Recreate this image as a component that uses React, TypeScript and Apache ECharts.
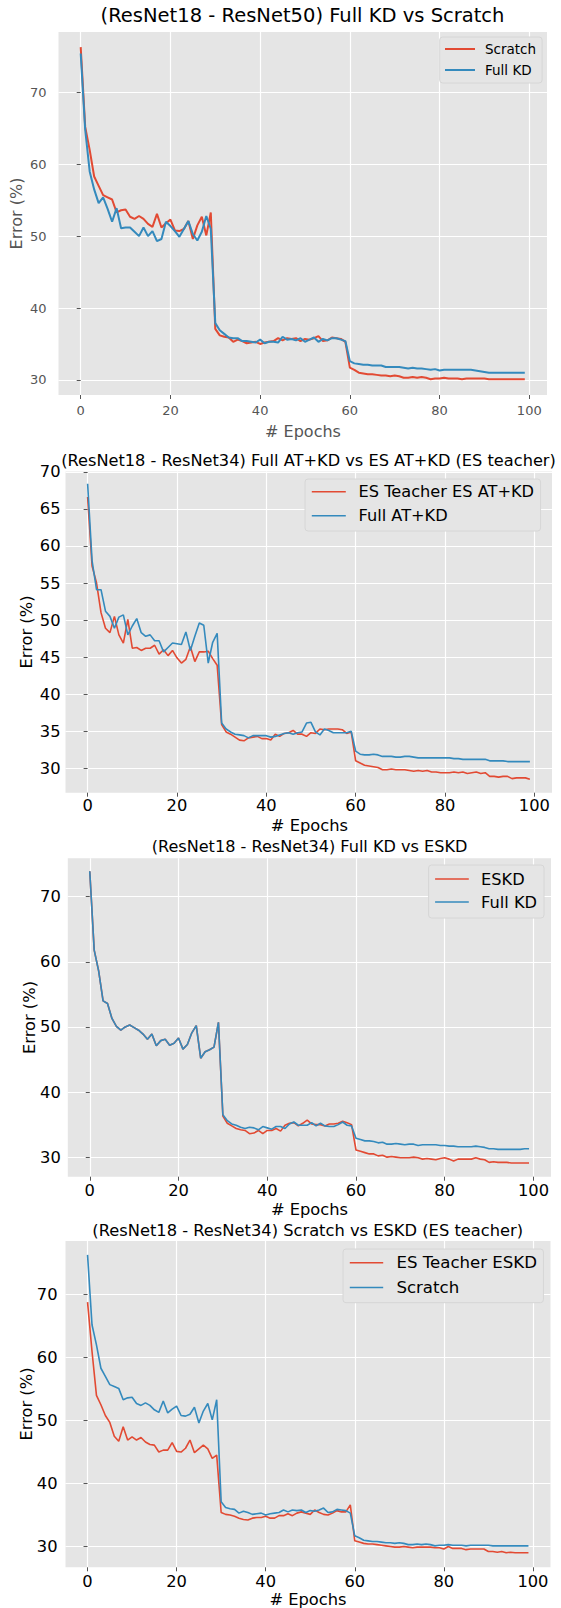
import React, { useEffect, useRef } from "react";
import * as echarts from "echarts";

// ---------- data ----------
const EPOCHS = [
  0, 1, 2, 3, 4, 5, 6, 7, 8, 9, 10, 11, 12, 13, 14, 15, 16, 17, 18, 19,
  20, 21, 22, 23, 24, 25, 26, 27, 28, 29, 30, 31, 32, 33, 34, 35, 36, 37, 38, 39,
  40, 41, 42, 43, 44, 45, 46, 47, 48, 49, 50, 51, 52, 53, 54, 55, 56, 57, 58, 59,
  60, 61, 62, 63, 64, 65, 66, 67, 68, 69, 70, 71, 72, 73, 74, 75, 76, 77, 78, 79,
  80, 81, 82, 83, 84, 85, 86, 87, 88, 89, 90, 91, 92, 93, 94, 95, 96, 97, 98, 99,
];

const X_TICKS = [0, 20, 40, 60, 80, 100];
const Y_TICKS_10 = [30, 40, 50, 60, 70];
const Y_TICKS_5 = [30, 35, 40, 45, 50, 55, 60, 65, 70];

// Panel 1 / Panel 4: Scratch
const scratch = [
  76.3, 65.2, 62.0, 58.3, 57.0, 55.7, 55.4, 55.1, 53.3, 53.6,
  53.7, 52.7, 52.4, 52.8, 52.4, 51.7, 51.3, 53.1, 51.2, 51.8,
  52.3, 50.8, 50.7, 51.0, 52.1, 49.6, 51.5, 52.7, 50.1, 53.3,
  37.1, 36.2, 36.0, 35.9, 35.3, 35.6, 35.4, 35.1, 35.2, 35.3,
  35.0, 35.2, 35.3, 35.4, 35.8, 35.5, 35.8, 35.7, 35.8, 35.4,
  35.7, 35.6, 35.8, 36.1, 35.4, 35.5, 35.9, 35.8, 35.7, 35.3,
  31.7, 31.4, 31.0, 30.9, 30.8, 30.8, 30.7, 30.6, 30.6, 30.5,
  30.6, 30.5, 30.3, 30.3, 30.4, 30.3, 30.4, 30.3, 30.1, 30.2,
  30.2, 30.3, 30.2, 30.2, 30.2, 30.1, 30.2, 30.2, 30.2, 30.2,
  30.2, 30.1, 30.1, 30.1, 30.1, 30.1, 30.1, 30.1, 30.1, 30.1,
];

// Panel 1: Full KD (ResNet50 teacher)
const fullKdR50 = [
  75.4, 64.8, 59.0, 56.5, 54.6, 55.4, 53.8, 52.0, 53.9, 51.1,
  51.2, 51.2, 50.6, 50.0, 51.2, 50.0, 50.7, 49.3, 49.6, 52.0,
  51.4, 50.7, 49.9, 51.0, 52.1, 50.3, 49.4, 50.6, 52.8, 51.0,
  37.9, 36.9, 36.4, 35.9, 35.8, 35.8, 35.4, 35.4, 35.3, 35.2,
  35.6, 35.1, 35.3, 35.3, 35.2, 36.0, 35.6, 35.7, 35.5, 35.8,
  35.3, 35.6, 35.9, 35.3, 35.7, 35.5, 35.8, 35.8, 35.6, 35.4,
  32.6, 32.3, 32.2, 32.1, 32.1, 32.0, 32.0, 32.0, 31.8, 31.8,
  31.8, 31.8, 31.7, 31.6, 31.7, 31.6, 31.6, 31.5, 31.4, 31.5,
  31.3, 31.4, 31.4, 31.4, 31.4, 31.4, 31.4, 31.4, 31.3, 31.2,
  31.1, 31.0, 31.0, 31.0, 31.0, 31.0, 31.0, 31.0, 31.0, 31.0,
];

// Panel 2: ES Teacher ES AT+KD
const esAtKd = [
  66.6, 57.3, 55.0, 51.0, 48.9, 48.3, 50.5, 48.0, 46.9, 50.1,
  46.2, 46.3, 45.9, 46.2, 46.2, 46.6, 45.4, 46.0, 45.2, 45.9,
  44.9, 44.2, 44.7, 46.4, 44.4, 45.7, 45.7, 45.8, 44.8, 43.9,
  35.9, 34.9, 34.6, 34.2, 33.8, 33.7, 34.1, 34.2, 34.3, 34.0,
  34.0, 33.8, 34.6, 34.3, 34.7, 34.8, 35.1, 34.6, 34.6, 34.3,
  34.8, 34.7, 35.3, 35.2, 35.3, 35.3, 35.3, 35.2, 34.7, 34.9,
  31.0, 30.7, 30.4, 30.3, 30.2, 30.1, 29.8, 29.8, 29.9, 29.8,
  29.8, 29.8, 29.7, 29.6, 29.7, 29.6, 29.7, 29.5, 29.5, 29.4,
  29.4, 29.4, 29.5, 29.4, 29.5, 29.3, 29.4, 29.5, 29.3, 29.4,
  28.9, 28.9, 28.8, 28.9, 28.9, 28.6, 28.7, 28.7, 28.7, 28.5,
];

// Panel 2: Full AT+KD
const fullAtKd = [
  68.4, 58.0, 54.1, 54.1, 51.2, 50.5, 48.9, 50.4, 50.7, 48.0,
  49.2, 50.2, 48.3, 47.8, 48.0, 47.2, 47.2, 45.7, 46.3, 46.9,
  46.8, 46.7, 48.4, 45.9, 47.8, 49.6, 49.3, 44.2, 47.0, 48.2,
  36.1, 35.3, 34.9, 34.6, 34.5, 34.4, 34.1, 34.4, 34.4, 34.4,
  34.4, 34.2, 34.3, 34.5, 34.7, 34.8, 34.6, 34.8, 34.9, 36.1,
  36.2, 34.9, 34.5, 35.3, 35.1, 34.8, 34.8, 34.8, 34.8, 35.0,
  32.3, 31.9, 31.8, 31.8, 31.9, 31.8, 31.6, 31.6, 31.6, 31.5,
  31.5, 31.6, 31.6, 31.5, 31.4, 31.4, 31.4, 31.4, 31.4, 31.4,
  31.4, 31.4, 31.3, 31.3, 31.2, 31.2, 31.2, 31.2, 31.2, 31.2,
  31.0, 31.0, 31.0, 31.0, 30.9, 30.9, 30.9, 30.9, 30.9, 30.9,
];

// Panel 3: Full KD (ResNet34 teacher)
const fullKdR34 = [
  73.9, 61.8, 58.6, 54.0, 53.6, 51.3, 50.1, 49.5, 50.0, 50.3,
  49.9, 49.5, 48.9, 48.1, 48.9, 47.1, 47.9, 48.1, 47.2, 47.5,
  48.3, 46.6, 47.3, 49.1, 50.2, 45.2, 46.2, 46.5, 46.9, 50.7,
  36.5, 35.6, 35.1, 34.9, 34.6, 34.4, 34.6, 34.5, 34.2, 34.7,
  34.5, 34.3, 34.7, 34.7, 34.4, 35.1, 35.4, 34.9, 34.9, 34.9,
  35.3, 34.8, 35.2, 34.8, 34.7, 34.7, 35.0, 35.4, 34.9, 34.8,
  32.9, 32.7, 32.5, 32.5, 32.4, 32.2, 32.3, 32.0, 32.0, 32.1,
  32.0, 31.9, 32.0, 32.0, 31.8, 31.9, 31.9, 31.9, 31.9, 31.8,
  31.8, 31.7, 31.7, 31.6, 31.6, 31.6, 31.6, 31.7, 31.6, 31.5,
  31.3, 31.3, 31.2, 31.2, 31.2, 31.2, 31.2, 31.2, 31.3, 31.3,
];

// Panel 3: ESKD (identical to Full KD for the first 30 epochs)
const eskd = [
  73.9, 61.8, 58.6, 54.0, 53.6, 51.3, 50.1, 49.5, 50.0, 50.3,
  49.9, 49.5, 48.9, 48.1, 48.9, 47.1, 47.9, 48.1, 47.2, 47.5,
  48.3, 46.6, 47.3, 49.1, 50.2, 45.2, 46.2, 46.5, 46.9, 50.7,
  36.3, 35.2, 34.8, 34.4, 34.2, 34.1, 33.6, 33.7, 34.1, 33.6,
  34.1, 34.1, 34.4, 34.0, 34.9, 35.2, 35.3, 34.8, 35.2, 35.7,
  35.1, 35.0, 35.0, 34.8, 35.1, 35.1, 35.2, 35.5, 35.3, 35.0,
  31.1, 30.9, 30.7, 30.5, 30.5, 30.2, 30.3, 30.0, 30.1, 30.0,
  29.9, 29.9, 29.9, 30.0, 29.9, 29.7, 29.8, 29.7, 29.6, 29.8,
  29.9, 29.7, 29.4, 29.7, 29.7, 29.7, 29.7, 29.9, 29.7, 29.6,
  29.2, 29.3, 29.2, 29.2, 29.2, 29.1, 29.1, 29.1, 29.1, 29.1,
];

// Panel 4: ES Teacher ESKD
const esTeacherEskd = [
  68.8, 61.0, 54.0, 52.5, 50.8, 49.7, 47.5, 46.7, 49.0, 46.9,
  47.4, 46.9, 47.3, 46.6, 46.2, 46.1, 45.0, 45.3, 45.3, 46.5,
  45.1, 45.0, 45.6, 46.9, 44.9, 45.5, 46.1, 45.5, 44.0, 44.5,
  35.4, 35.1, 35.0, 34.8, 34.5, 34.3, 34.2, 34.5, 34.6, 34.6,
  34.8, 34.5, 34.5, 34.9, 34.9, 35.2, 34.9, 35.3, 35.5, 35.3,
  35.1, 35.8, 35.4, 35.1, 35.0, 35.3, 35.7, 35.5, 35.5, 36.6,
  30.9, 30.7, 30.5, 30.4, 30.4, 30.3, 30.2, 30.1, 30.0, 29.9,
  29.9, 30.0, 29.9, 29.8, 29.9, 29.9, 29.9, 29.9, 29.8, 29.8,
  29.6, 30.0, 29.7, 29.7, 29.7, 29.5, 29.6, 29.6, 29.6, 29.6,
  29.2, 29.2, 29.1, 29.2, 29.0, 29.1, 29.0, 29.0, 29.0, 29.0,
];

const TITLES = [
  "(ResNet18 - ResNet50) Full KD vs Scratch",
  "(ResNet18 - ResNet34) Full AT+KD vs ES AT+KD (ES teacher)",
  "(ResNet18 - ResNet34) Full KD vs ESKD",
  "(ResNet18 - ResNet34) Scratch vs ESKD (ES teacher)",
];
const X_NAME = "# Epochs";
const Y_NAME = "Error (%)";

// ---------- style ----------
const FONT = "DejaVu Sans";
const RED = "#E24A33";
const BLUE = "#348ABD";
const BG = "#E5E5E5";

type Panel = {
  title: string;
  grid: { left: number; top: number; width: number; height: number };
  yMin: number;
  yMax: number;
  yTicks: number[];
  tickFont: number;
  textColor: string;
  titleFont: number;
  titlePos: [number, number];
  labelFont: number;
  xNamePos: [number, number];
  yNamePos: [number, number];
  yLabelMargin: number;
  xLabelMargin: number;
  lineWidth: number;
  series: { name: string; data: number[]; color: string }[];
  legend: {
    left: number;
    top: number;
    padding: number[];
    itemWidth: number;
    itemHeight: number;
    itemGap: number;
    fontSize: number;
    textPad: number;
  };
};

const PANELS: Panel[] = [
  {
    title: TITLES[0],
    grid: { left: 58.5, top: 32, width: 488.5, height: 363 },
    yMin: 27.9,
    yMax: 78.4,
    yTicks: Y_TICKS_10,
    tickFont: 13,
    textColor: "#555555",
    titleFont: 19.5,
    titlePos: [302.5, 15],
    labelFont: 16,
    xNamePos: [303, 431.5],
    yNamePos: [16, 213.5],
    yLabelMargin: 12,
    xLabelMargin: 9,
    lineWidth: 2,
    series: [
      { name: "Scratch", data: scratch, color: RED },
      { name: "Full KD", data: fullKdR50, color: BLUE },
    ],
    legend: { left: 439.7, top: 37, padding: [5, 6, 6, 4.3], itemWidth: 30, itemHeight: 14, itemGap: 7, fontSize: 13.5, textPad: 5 },
  },
  {
    title: TITLES[1],
    grid: { left: 65.5, top: 471.5, width: 486.5, height: 321.2 },
    yMin: 26.7,
    yMax: 70.05,
    yTicks: Y_TICKS_5,
    tickFont: 16.3,
    textColor: "#000000",
    titleFont: 16.2,
    titlePos: [308.5, 460.7],
    labelFont: 16.3,
    xNamePos: [309.4, 825],
    yNamePos: [26.4, 632],
    yLabelMargin: 5,
    xLabelMargin: 5,
    lineWidth: 1.6,
    series: [
      { name: "ES Teacher ES AT+KD", data: esAtKd, color: RED },
      { name: "Full AT+KD", data: fullAtKd, color: BLUE },
    ],
    legend: { left: 305, top: 479, padding: [4.7, 6.5, 7.3, 6], itemWidth: 34, itemHeight: 16, itemGap: 8, fontSize: 16.2, textPad: 7.7 },
  },
  {
    title: TITLES[2],
    grid: { left: 67.8, top: 858.3, width: 483.2, height: 318.4 },
    yMin: 27.0,
    yMax: 75.9,
    yTicks: Y_TICKS_10,
    tickFont: 16.3,
    textColor: "#000000",
    titleFont: 16.1,
    titlePos: [309.5, 846.7],
    labelFont: 16.3,
    xNamePos: [309.5, 1209],
    yNamePos: [29, 1017.5],
    yLabelMargin: 7,
    xLabelMargin: 6,
    lineWidth: 1.6,
    series: [
      { name: "ESKD", data: eskd, color: RED },
      { name: "Full KD", data: fullKdR34, color: BLUE },
    ],
    legend: { left: 428.6, top: 865, padding: [6, 7, 8, 5.7], itemWidth: 33.7, itemHeight: 16, itemGap: 7, fontSize: 16.2, textPad: 7.3 },
  },
  {
    title: TITLES[3],
    grid: { left: 65.5, top: 1241, width: 485, height: 326.3 },
    yMin: 26.7,
    yMax: 78.5,
    yTicks: Y_TICKS_10,
    tickFont: 16.3,
    textColor: "#000000",
    titleFont: 16.3,
    titlePos: [307.7, 1230],
    labelFont: 16.3,
    xNamePos: [308, 1599.3],
    yNamePos: [26.1, 1404],
    yLabelMargin: 8,
    xLabelMargin: 5.7,
    lineWidth: 1.6,
    series: [
      { name: "ES Teacher ESKD", data: esTeacherEskd, color: RED },
      { name: "Scratch", data: scratch, color: BLUE },
    ],
    legend: { left: 343, top: 1249, padding: [5.3, 6.4, 6.7, 6], itemWidth: 33.4, itemHeight: 16, itemGap: 7.7, fontSize: 16.6, textPad: 8.2 },
  },
];

function buildOption() {
  const grid: any[] = [];
  const xAxis: any[] = [];
  const yAxis: any[] = [];
  const series: any[] = [];
  const legend: any[] = [];
  const graphic: any[] = [];

  PANELS.forEach((p, i) => {
    grid.push({
      left: p.grid.left,
      top: p.grid.top,
      width: p.grid.width,
      height: p.grid.height,
      show: true,
      backgroundColor: BG,
      borderWidth: 0,
      containLabel: false,
    });
    xAxis.push({
      type: "value",
      gridIndex: i,
      min: -4.95,
      max: 103.95,
      axisLine: { show: false },
      axisTick: { show: true, customValues: X_TICKS, length: 4, lineStyle: { color: "#555555", width: 1 } },
      axisLabel: {
        customValues: X_TICKS,
        margin: p.xLabelMargin,
        color: p.textColor,
        fontFamily: FONT,
        fontSize: p.tickFont,
        formatter: (v: number) => String(v),
      },
      splitLine: { show: true, lineStyle: { color: "#FFFFFF", width: 1.2 } },
    });
    yAxis.push({
      type: "value",
      gridIndex: i,
      min: p.yMin,
      max: p.yMax,
      axisLine: { show: false },
      axisTick: { show: true, customValues: p.yTicks, length: 4, lineStyle: { color: "#555555", width: 1 } },
      axisLabel: {
        customValues: p.yTicks,
        margin: p.yLabelMargin,
        color: p.textColor,
        fontFamily: FONT,
        fontSize: p.tickFont,
        formatter: (v: number) => String(v),
      },
      splitLine: { show: true, lineStyle: { color: "#FFFFFF", width: 1.2 } },
    });
    p.series.forEach((s) => {
      series.push({
        type: "line",
        name: s.name,
        xAxisIndex: i,
        yAxisIndex: i,
        data: s.data.map((v, k) => [EPOCHS[k], v]),
        symbol: "none",
        showSymbol: false,
        silent: true,
        color: s.color,
        lineStyle: { color: s.color, width: p.lineWidth },
        itemStyle: { color: s.color },
      });
    });
    legend.push({
      orient: "vertical",
      left: p.legend.left,
      top: p.legend.top,
      padding: p.legend.padding,
      itemWidth: p.legend.itemWidth,
      itemHeight: p.legend.itemHeight,
      itemGap: p.legend.itemGap,
      backgroundColor: BG,
      borderColor: "#D6D6D6",
      borderWidth: 1,
      borderRadius: 3,
      selectedMode: false,
      itemStyle: { opacity: 0 },
      data: p.series.map((s) => ({
        name: s.name,
        itemStyle: { opacity: 0, color: s.color },
        lineStyle: { color: s.color, width: p.lineWidth, opacity: 1 },
      })),
      textStyle: {
        fontFamily: FONT,
        fontSize: p.legend.fontSize,
        color: "#000000",
        padding: [0, 0, 0, p.legend.textPad],
        lineHeight: p.legend.itemHeight,
      },
    });
    graphic.push({
      type: "text",
      x: p.titlePos[0],
      y: p.titlePos[1],
      style: {
        text: p.title,
        fontFamily: FONT,
        fontSize: p.titleFont,
        fill: "#000000",
        textAlign: "center",
        textVerticalAlign: "middle",
      },
    });
    graphic.push({
      type: "text",
      x: p.xNamePos[0],
      y: p.xNamePos[1],
      style: {
        text: X_NAME,
        fontFamily: FONT,
        fontSize: p.labelFont,
        fill: p.textColor,
        textAlign: "center",
        textVerticalAlign: "middle",
      },
    });
    graphic.push({
      type: "text",
      x: p.yNamePos[0],
      y: p.yNamePos[1],
      rotation: Math.PI / 2,
      style: {
        text: Y_NAME,
        fontFamily: FONT,
        fontSize: p.labelFont,
        fill: p.textColor,
        textAlign: "center",
        textVerticalAlign: "middle",
      },
    });
  });

  return {
    animation: false,
    backgroundColor: "#FFFFFF",
    textStyle: { fontFamily: FONT },
    grid,
    xAxis,
    yAxis,
    series,
    legend,
    graphic,
  };
}

export default function App() {
  const ref = useRef<HTMLDivElement>(null);
  useEffect(() => {
    if (!ref.current) return;
    const chart = echarts.init(ref.current, undefined, { renderer: "svg" });
    chart.setOption(buildOption() as any);
    return () => chart.dispose();
  }, []);
  return (
    <div
      ref={ref}
      style={{ position: "absolute", left: 0, top: 0, width: 561, height: 1608, background: "#FFFFFF" }}
    />
  );
}
